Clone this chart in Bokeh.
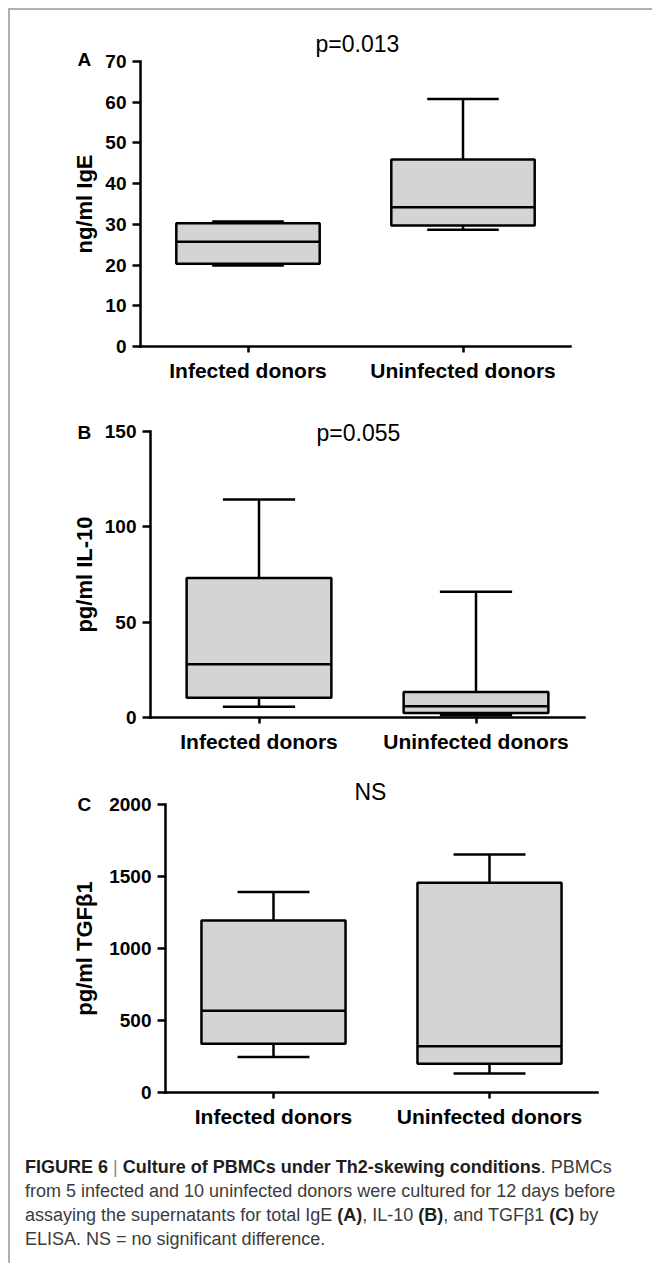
from bokeh.plotting import figure
from bokeh.models import ColumnDataSource, FactorRange, Range1d, FixedTicker, Title, Div
from bokeh.layouts import column, row
from bokeh.transform import dodge
from bokeh.embed import file_html
from bokeh.resources import INLINE

# ---------------- data ----------------
groups = ["Infected donors", "Uninfected donors"]

ige_min = [19.9, 28.7]
ige_q1 = [20.3, 29.7]
ige_med = [25.7, 34.2]
ige_q3 = [30.3, 45.9]
ige_max = [30.7, 60.8]
ige_ticks = [0, 10, 20, 30, 40, 50, 60, 70]

il10_min = [5.6, 1.2]
il10_q1 = [10.3, 2.4]
il10_med = [27.9, 5.9]
il10_q3 = [73.1, 13.4]
il10_max = [114.4, 65.9]
il10_ticks = [0, 50, 100, 150]

tgf_min = [247, 132]
tgf_q1 = [338, 199]
tgf_med = [567, 322]
tgf_q3 = [1194, 1456]
tgf_max = [1393, 1653]
tgf_ticks = [0, 500, 1000, 1500, 2000]

# ---------------- styling ----------------
FONT = "Liberation Sans"
W = 642
BOX_W = 0.667
CAP_W = 0.333
LW = 2.5
FILL = "#d4d4d4"


def panel(letter, title, ylabel, ticks, mins, q1s, meds, q3s, maxs, *,
          height, frame_left, frame_w, frame_top, frame_h,
          title_offset, title_standoff, letter_offset, letter_standoff, label_standoff):
    p = figure(width=W, height=height,
               x_range=FactorRange(factors=groups),
               y_range=Range1d(ticks[0], ticks[-1]),
               output_backend="svg", toolbar_location=None,
               min_border_left=frame_left,
               min_border_right=W - frame_left - frame_w,
               min_border_top=frame_top,
               min_border_bottom=height - frame_top - frame_h,
               frame_align=False,
               margin=0)
    p.outline_line_color = None
    p.xgrid.visible = False
    p.ygrid.visible = False
    p.background_fill_color = "white"
    p.border_fill_color = "white"

    src = ColumnDataSource(dict(g=groups, lo=mins, q1=q1s, med=meds, q3=q3s, hi=maxs))
    kw = dict(source=src, line_color="black", line_width=LW)
    p.segment(x0="g", y0="q3", x1="g", y1="hi", **kw)
    p.segment(x0="g", y0="lo", x1="g", y1="q1", **kw)
    p.vbar(x="g", width=BOX_W, bottom="q1", top="q3", fill_color=FILL, **kw)
    p.segment(x0=dodge("g", -BOX_W / 2, range=p.x_range), y0="med",
              x1=dodge("g", BOX_W / 2, range=p.x_range), y1="med", **kw)
    p.segment(x0=dodge("g", -CAP_W / 2, range=p.x_range), y0="hi",
              x1=dodge("g", CAP_W / 2, range=p.x_range), y1="hi", **kw)
    p.segment(x0=dodge("g", -CAP_W / 2, range=p.x_range), y0="lo",
              x1=dodge("g", CAP_W / 2, range=p.x_range), y1="lo", **kw)

    # axes
    for ax in (p.xaxis[0], p.yaxis[0]):
        ax.axis_line_width = LW
        ax.axis_line_color = "black"
        ax.axis_line_cap = "square"
        ax.major_tick_line_width = LW
        ax.major_tick_line_color = "black"
        ax.major_tick_in = 0
        ax.minor_tick_line_color = None
        ax.major_label_text_font = FONT
        ax.major_label_text_font_style = "bold"
        ax.major_label_text_color = "black"
    p.yaxis.ticker = FixedTicker(ticks=ticks)
    p.yaxis.major_tick_out = 8
    p.yaxis.major_label_standoff = 6
    p.yaxis.major_label_text_font_size = "19px"
    p.yaxis.axis_label = ylabel
    p.yaxis.axis_label_text_font = FONT
    p.yaxis.axis_label_text_font_style = "bold"
    p.yaxis.axis_label_text_font_size = "22px"
    p.yaxis.axis_label_text_color = "black"
    p.yaxis.axis_label_standoff = label_standoff
    p.xaxis.major_tick_out = 6
    p.xaxis.major_label_standoff = 6
    p.xaxis.major_label_text_font_size = "21px"

    # panel letter (inner "above" title) and statistic title (outer)
    p.add_layout(Title(text=letter, align="left", offset=letter_offset, standoff=letter_standoff,
                       text_font=FONT, text_font_style="bold", text_font_size="19px",
                       text_color="black"), "above")
    p.title.text = title
    p.title.align = "left"
    p.title.offset = title_offset
    p.title.standoff = title_standoff
    p.title.text_font = FONT
    p.title.text_font_style = "normal"
    p.title.text_font_size = "23px"
    p.title.text_color = "black"
    return p


pa = panel("A", "p=0.013", "ng/ml IgE", ige_ticks,
           ige_min, ige_q1, ige_med, ige_q3, ige_max,
           height=380, frame_left=130, frame_w=430, frame_top=51, frame_h=285,
           title_offset=175, title_standoff=-4, letter_offset=-63, letter_standoff=-16,
           label_standoff=5)
pb = panel("B", "p=0.055", "pg/ml IL-10", il10_ticks,
           il10_min, il10_q1, il10_med, il10_q3, il10_max,
           height=380, frame_left=140, frame_w=434, frame_top=41, frame_h=286,
           title_offset=166, title_standoff=-30, letter_offset=-73, letter_standoff=-22,
           label_standoff=5)
pc = panel("C", "NS", "pg/ml TGF\u03b21", tgf_ticks,
           tgf_min, tgf_q1, tgf_med, tgf_q3, tgf_max,
           height=370, frame_left=155, frame_w=432, frame_top=34, frame_h=288,
           title_offset=189, title_standoff=-6, letter_offset=-88, letter_standoff=-20,
           label_standoff=9)

caption_html = (
    '<div style="padding:15px 0 0 15px; font-family:\'Liberation Sans\', Arial, sans-serif; '
    'font-size:18px; line-height:24px; color:#3c3c3c; white-space:nowrap;">'
    '<b style="color:#1e1e1e">FIGURE 6</b> <span style="color:#888">|</span> '
    '<b style="color:#1e1e1e">Culture of PBMCs under Th2-skewing conditions</b>. PBMCs<br>'
    'from 5 infected and 10 uninfected donors were cultured for 12 days before<br>'
    'assaying the supernatants for total IgE <b style="color:#1e1e1e">(A)</b>, IL-10 '
    '<b style="color:#1e1e1e">(B)</b>, and TGF\u03b21 <b style="color:#1e1e1e">(C)</b> by<br>'
    'ELISA. NS = no significant difference.</div>'
)
caption = Div(text=caption_html, width=W, height=123, margin=0,
              styles={"overflow": "hidden", "background-color": "white"})

top_bar = Div(text="", width=644, height=2, margin=0, styles={"background-color": "#b0b0b0"})
left_bar = Div(text="", width=2, height=1253, margin=0, styles={"background-color": "#b0b0b0"})

layout = column(top_bar,
                row(left_bar, column(pa, pb, pc, caption, spacing=0), spacing=0),
                spacing=0, margin=(8, 0, 0, 8))

open("out.html", "w").write(file_html(layout, INLINE))
